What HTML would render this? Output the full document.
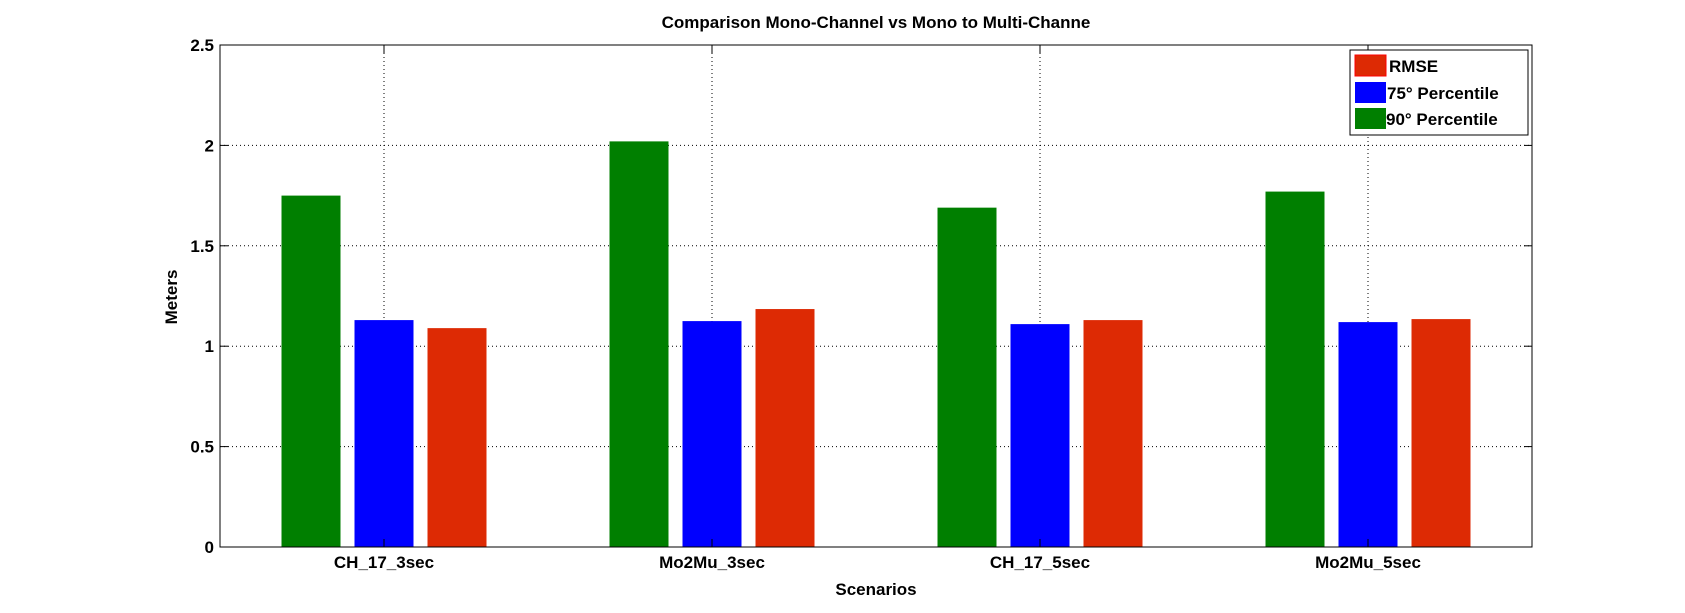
<!DOCTYPE html>
<html><head><meta charset="utf-8"><style>
body{margin:0;background:#fff}
svg{display:block;font-family:"Liberation Sans",sans-serif;font-weight:bold}
</style></head><body>
<svg id="chart" width="1685" height="613" xmlns="http://www.w3.org/2000/svg">
<text x="876" y="28" font-size="17" text-anchor="middle">Comparison Mono-Channel vs Mono to Multi-Channe</text>
<g id="grid"></g><g id="bars"></g><g id="axes"></g>
<text x="876" y="595" font-size="17" text-anchor="middle">Scenarios</text>
<text transform="translate(177,297) rotate(-90)" font-size="17" text-anchor="middle">Meters</text>
<g>
<rect x="1350" y="50" width="178" height="85" fill="#fff" stroke="#000"/>
<rect x="1355" y="55" width="31" height="21" fill="#dd2a04" stroke="#f00"/>
<text x="1389" y="72" font-size="17">RMSE</text>
<rect x="1355" y="82" width="31" height="21" fill="#0000ff"/>
<text x="1387" y="99" font-size="17">75° Percentile</text>
<rect x="1355" y="108" width="31" height="21" fill="#007f00"/>
<text x="1386" y="125" font-size="17">90° Percentile</text>
</g>
</svg>
<script>
const categories=["CH_17_3sec","Mo2Mu_3sec","CH_17_5sec","Mo2Mu_5sec"];
const p90=[1.75,2.02,1.69,1.77];
const p75=[1.13,1.125,1.11,1.12];
const rmse=[1.09,1.185,1.13,1.135];
const yTicks=[0,0.5,1,1.5,2,2.5];
const L=220,R=1532,T=45,B=547,yMax=2.5;
const NS="http://www.w3.org/2000/svg";
const xs=i=>L+(R-L)/categories.length*(i+0.5);
const ys=v=>B-(B-T)*v/yMax;
function mk(t,a,p){const e=document.createElementNS(NS,t);for(const k in a)e.setAttribute(k,a[k]);p.appendChild(e);return e;}
const grid=document.getElementById('grid'),bars=document.getElementById('bars'),axes=document.getElementById('axes');
yTicks.forEach(v=>{
 const y=ys(v);
 if(v>0&&v<yMax){const g=mk('line',{x1:L,x2:R,y1:y,y2:y,stroke:'#000','stroke-dasharray':'1 3'},grid);
 
 }
 mk('line',{x1:L,x2:L+8,y1:y,y2:y,stroke:'#000'},axes);
 mk('line',{x1:R,x2:R-8,y1:y,y2:y,stroke:'#000'},axes);
 const t=mk('text',{x:L-6,y:y+6,'font-size':17,'text-anchor':'end'},axes);
 
 
 t.textContent=v;
});
categories.forEach((c,i)=>{
 const x=xs(i);
 const g=mk('line',{x1:x,x2:x,y1:T,y2:B,stroke:'#000','stroke-dasharray':'1 3'},grid);
 
 
 mk('line',{x1:x,x2:x,y1:B,y2:B-8,stroke:'#000'},axes);
 mk('line',{x1:x,x2:x,y1:T,y2:T+8,stroke:'#000'},axes);
 const t=mk('text',{x:x,y:B+21,'font-size':17,'text-anchor':'middle'},axes);
 
 
 t.textContent=c;
 [[p90,'#007f00',-73,'bar-p90'],[p75,'#0000ff',0,'bar-p75'],[rmse,'#dd2a04',73,'bar-rmse']].forEach(s=>{
  const v=s[0][i];
  const b=mk('rect',{x:x+s[2]-29.5,y:ys(v),width:59,height:B-ys(v),fill:s[1]},bars);
  
  
 });
});
mk('rect',{x:L,y:T,width:R-L,height:B-T,fill:'none',stroke:'#000'},axes);
</script>
</body></html>
